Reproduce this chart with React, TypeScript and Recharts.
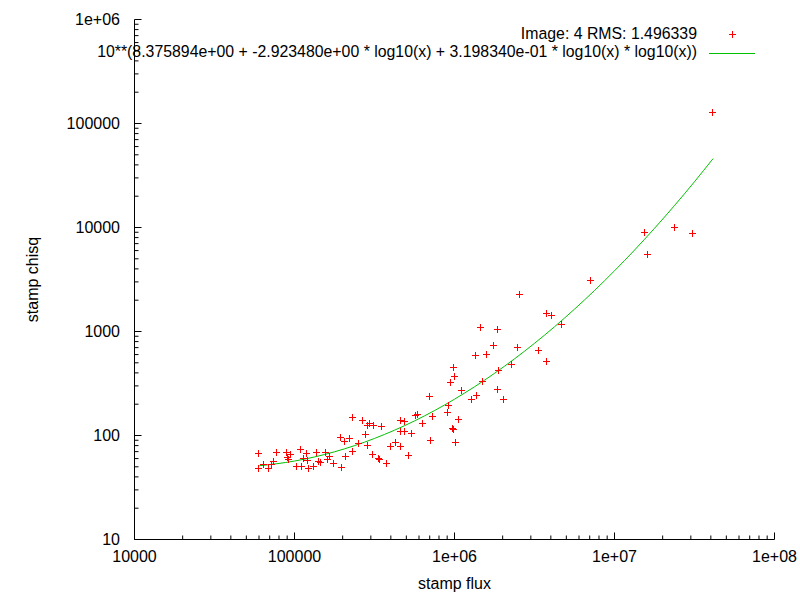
import { ScatterChart, Scatter, XAxis, YAxis, Legend } from "recharts";

// stamp flux / stamp chisq for each detection
const FLUX = [
  59800, 59800, 64300, 69100, 72100, 74300, 77500, 89500, 90800, 94800,
  92100, 103400, 109500, 111100, 114300, 119400, 121100, 122900, 132000, 137900,
  141900, 146000, 156900, 161500, 166200, 176000, 194700, 197500, 206200, 209200,
  221600, 231400, 231400, 252300, 267300, 279000, 287100, 295500, 313100, 351300,
  287100, 308600, 336500, 341400, 377600, 399900, 429800, 461700, 489000, 461700,
  489000, 461700, 518000, 540800, 573000, 589700, 633700, 700800, 711000, 731800,
  921300, 908100, 948200, 1004000, 990000, 975900, 990000, 1019000, 1064000, 1111000,
  1282000, 1378000, 1359000, 1460000, 1503000, 1592000, 1760000, 1865000, 1865000, 1892000,
  2033000, 2281000, 2487000, 2559000, 3365000, 3776000, 4057000, 3776000, 4685000, 7110000,
  15470000, 16150000, 23820000, 30860000, 41160000,
];
const CHISQ = [
  67.6, 48.5, 53.0, 48.5, 53.0, 56.6, 69.1, 69.1, 61.8, 66.1,
  59.2, 50.7, 73.8, 50.7, 60.5, 67.6, 57.9, 48.5, 50.7, 69.1,
  56.6, 55.4, 69.1, 59.2, 63.2, 54.2, 96.3, 49.6, 88.2, 63.2,
  94.2, 150.0, 70.6, 84.3, 140.3, 102.9, 125.6, 131.3, 125.6, 122.9,
  80.7, 66.1, 60.5, 59.2, 54.2, 78.9, 86.2, 140.3, 137.2, 110.0,
  110.0, 78.9, 64.7, 105.2, 156.7, 160.2, 131.3, 238.8, 90.1, 153.3,
  195.6, 167.5, 325.5, 371.7, 453.7, 117.5, 115.0, 86.2, 143.5, 272.7,
  223.4, 244.1, 591.8, 1100, 332.8, 605.0, 738.5, 1052, 278.8, 424.6,
  223.4, 484.9, 706.3, 2284, 661.0, 1500, 1435, 518.2, 1175, 3113,
  9013, 5538, 10070, 8816, 128400,
];

// fitted curve, sampled along its drawn length
const FIT_FLUX = [
  60256, 100000, 177828, 316228, 562341, 1000000, 1778279,
  3162278, 5623413, 10000000, 17782794, 31622777, 41304750,
];
const FIT_CHISQ = [51.2, 56.8, 69.7, 93.7, 138.1, 223.4, 396.0, 769.6, 1640, 3832, 9816, 27564, 45930];

const X_MAJOR = [1e4, 1e5, 1e6, 1e7, 1e8];
const X_LABELS = ["10000", "100000", "1e+06", "1e+07", "1e+08"];
const Y_MAJOR = [10, 100, 1000, 1e4, 1e5, 1e6];
const Y_LABELS = ["10", "100", "1000", "10000", "100000", "1e+06"];
const MINOR_STEPS = [2, 3, 4, 5, 6, 7, 8, 9];

const POINTS_TITLE = "Image: 4 RMS: 1.496339";
const FIT_TITLE =
  "10**(8.375894e+00 + -2.923480e+00 * log10(x) + 3.198340e-01 * log10(x) * log10(x))";

const W = 800;
const H = 600;
const LEFT = 134.5;
const TOP = 19.5;
const RIGHT = 774.5;
const BOTTOM = 539.5;
const FONT = "'Liberation Sans', Arial, sans-serif";
const RED = "#ff0000";
const GREEN = "#00c000";

const withMinors = (majors: number[]) =>
  majors.flatMap((m, i) =>
    i < majors.length - 1 ? [m, ...MINOR_STEPS.map((s) => m * s)] : [m]
  );
const X_TICKS = withMinors(X_MAJOR);
const Y_TICKS = withMinors(Y_MAJOR);

const points = FLUX.map((x, i) => ({ x, y: CHISQ[i] }));
const fit = FIT_FLUX.map((x, i) => ({ x, y: FIT_CHISQ[i] }));

const tickLen = (v: number, majors: number[]) => (majors.includes(v) ? 7 : 4);

function BottomTick({ x, payload }: any) {
  const i = X_MAJOR.indexOf(payload.value);
  const len = tickLen(payload.value, X_MAJOR);
  return (
    <g>
      <line x1={x} x2={x} y1={BOTTOM} y2={BOTTOM - len} stroke="#000" />
      {i >= 0 && (
        <text x={x} y={BOTTOM + 17} dy="0.35em" textAnchor="middle" fontFamily={FONT} fontSize={16} fill="#000">
          {X_LABELS[i]}
        </text>
      )}
    </g>
  );
}

function TopTick({ x, payload }: any) {
  const len = tickLen(payload.value, X_MAJOR);
  return <line x1={x} x2={x} y1={TOP} y2={TOP + len} stroke="#000" />;
}

function LeftTick({ y, payload }: any) {
  const i = Y_MAJOR.indexOf(payload.value);
  const len = tickLen(payload.value, Y_MAJOR);
  return (
    <g>
      <line x1={LEFT} x2={LEFT + len} y1={y} y2={y} stroke="#000" />
      {i >= 0 && (
        <text x={LEFT - 14.5} y={y} dy="0.35em" textAnchor="end" fontFamily={FONT} fontSize={16} fill="#000">
          {Y_LABELS[i]}
        </text>
      )}
    </g>
  );
}

function RightTick({ y, payload }: any) {
  const len = tickLen(payload.value, Y_MAJOR);
  return <line x1={RIGHT} x2={RIGHT - len} y1={y} y2={y} stroke="#000" />;
}

function Cross({ cx, cy }: any) {
  const x = Math.floor(cx) + 0.5;
  const y = Math.floor(cy) + 0.5;
  return <path d={`M${x - 3.5},${y}h7M${x},${y - 3.5}v7`} stroke={RED} fill="none" />;
}

function KeyBox() {
  return (
    <svg width={W} height={70} style={{ display: "block" }}>
      <g fontFamily={FONT} fontSize={15.85} fill="#000">
        <text x={697} y={38.5} textAnchor="end">
          {POINTS_TITLE}
        </text>
        <text x={697} y={56.5} textAnchor="end">
          {FIT_TITLE}
        </text>
      </g>
      <path d="M729,34.5h7M732.5,31v7" stroke={RED} />
      <line x1={709} x2={755} y1={53.5} y2={53.5} stroke={GREEN} />
    </svg>
  );
}

export default function App() {
  return (
    <div style={{ position: "absolute", left: 0, top: 0, width: W, height: H, background: "#fff" }}>
      <ScatterChart
        width={W}
        height={H}
        margin={{ top: TOP, right: W - RIGHT, bottom: 0, left: 0 }}
      >
        <XAxis
          xAxisId="b"
          type="number"
          dataKey="x"
          scale="log"
          domain={[1e4, 1e8]}
          allowDataOverflow
          ticks={X_TICKS}
          interval={0}
          height={H - BOTTOM}
          axisLine={{ stroke: "#000" }}
          tickLine={false}
          tick={<BottomTick />}
          label={{
            content: () => (
              <text x={(LEFT + RIGHT) / 2} y={583} dy="0.35em" textAnchor="middle" fontFamily={FONT} fontSize={16} fill="#000">
                stamp flux
              </text>
            ),
          }}
        />
        <XAxis
          xAxisId="t"
          orientation="top"
          type="number"
          dataKey="x"
          scale="log"
          domain={[1e4, 1e8]}
          allowDataOverflow
          ticks={X_TICKS}
          interval={0}
          height={0}
          axisLine={{ stroke: "#000" }}
          tickLine={false}
          tick={<TopTick />}
        />
        <YAxis
          yAxisId="l"
          type="number"
          dataKey="y"
          scale="log"
          domain={[10, 1e6]}
          allowDataOverflow
          ticks={Y_TICKS}
          interval={0}
          width={LEFT}
          axisLine={{ stroke: "#000" }}
          tickLine={false}
          tick={<LeftTick />}
          label={{
            content: () => (
              <text
                x={32.5}
                y={(TOP + BOTTOM) / 2}
                dy="0.35em"
                textAnchor="middle"
                transform={`rotate(-90 32.5 ${(TOP + BOTTOM) / 2})`}
                fontFamily={FONT}
                fontSize={16}
                fill="#000"
              >
                stamp chisq
              </text>
            ),
          }}
        />
        <YAxis
          yAxisId="r"
          orientation="right"
          type="number"
          dataKey="y"
          scale="log"
          domain={[10, 1e6]}
          allowDataOverflow
          ticks={Y_TICKS}
          interval={0}
          width={0}
          axisLine={{ stroke: "#000" }}
          tickLine={false}
          tick={<RightTick />}
        />
        <Legend
          layout="horizontal"
          verticalAlign="middle"
          align="center"
          content={() => <KeyBox />}
          wrapperStyle={{ position: "absolute", left: 0, top: 0, width: W, height: 70, pointerEvents: "none" }}
        />
        <Scatter
          xAxisId="b"
          yAxisId="l"
          data={fit}
          shape={() => <g />}
          line={{ stroke: GREEN, strokeWidth: 1 }}
          lineJointType="monotoneX"
          isAnimationActive={false}
        />
        <Scatter
          xAxisId="b"
          yAxisId="l"
          data={points}
          shape={<Cross />}
          isAnimationActive={false}
        />
      </ScatterChart>
    </div>
  );
}
